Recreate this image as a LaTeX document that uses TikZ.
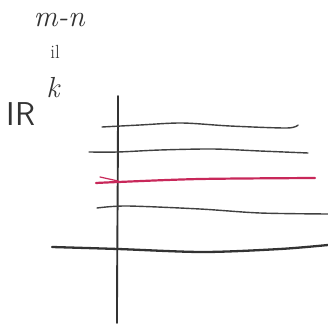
\documentclass[tikz,border=0pt]{standalone}
\usepackage{fontspec}
\begin{document}
\begin{tikzpicture}[x=1pt,y=-1pt,
  pencil/.style={draw=black!75, line width=1.4pt, line cap=round, line join=round},
  axis/.style={draw=black!80, line width=1.9pt, line cap=round},
  redline/.style={draw={rgb,255:red,200;green,40;blue,90}, line width=2.2pt, line cap=round},
  label/.style={text=black!80, inner sep=0pt}]
\useasboundingbox (0,0) rectangle (328,328);
% labels
\node[label, font=\fontsize{30}{30}\selectfont\itshape] (mn) at (59,20) {m-n};
\node[label, font=\fontsize{19}{19}\selectfont] (il) at (55,52) {il};
\node[label, font=\fontsize{29}{29}\selectfont\itshape] (k) at (53,88) {k};
\node[label, font=\fontsize{33}{33}\selectfont\sffamily] (R) at (21,114) {IR};
% vertical axis
\draw[axis] (118,96) .. controls (118,180) and (117,260) .. (117,323);
% horizontal base
\draw[axis, line width=2.3pt] plot[smooth] coordinates {(52,247) (118,249) (203,252) (280,249) (328,245)};
% horizontal lines
\draw[pencil] plot[smooth] coordinates {(102,127) (140,125) (182,123) (230,126) (287,128) (298,125)};
\draw[pencil] plot[smooth] coordinates {(89,152) (118,152) (160,150) (213,149) (260,151) (308,153)};
\draw[redline] plot[smooth] coordinates {(96,183) (118,182) (200,179) (315,178)};
\draw[redline, line width=1.2pt] (100,177) -- (118,181);
\draw[pencil] plot[smooth] coordinates {(97,208) (127,206) (200,209) (260,213) (328,214)};
\end{tikzpicture}
\end{document}
